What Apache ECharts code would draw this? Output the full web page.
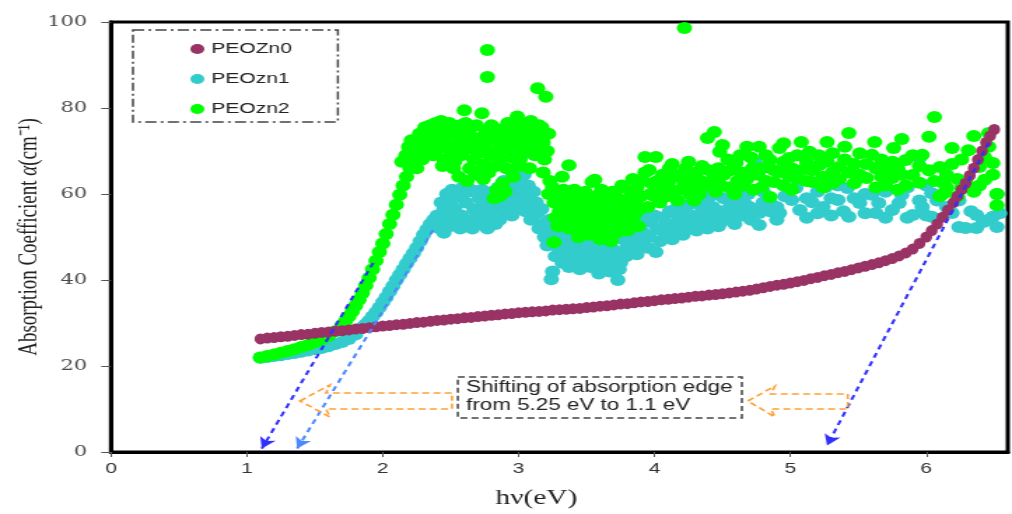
<!DOCTYPE html>
<html><head><meta charset="utf-8">
<script src="https://cdn.jsdelivr.net/npm/echarts@6.0.0/dist/echarts.min.js"></script>
<style>
html,body{margin:0;padding:0;background:#fff;overflow:hidden;}
#wrap{width:1012px;height:514px;overflow:hidden;}
#chart{width:723px;height:514px;transform:scaleX(1.3997);transform-origin:0 0;}
</style></head><body><div id="wrap"><div id="chart"></div></div>
<script>
// ---- data (hv in eV, alpha in cm^-1) ----
const seriesNames = ['PEOZn0', 'PEOzn1', 'PEOzn2'];
const xTicks = [0, 1, 2, 3, 4, 5, 6];
const yTicks = [0, 20, 40, 60, 80, 100];

const peoZn0 = [
[1.10,26.3],[1.15,26.5],[1.20,26.6],[1.25,26.8],[1.30,26.9],[1.35,27.1],[1.40,27.3],[1.45,27.4],[1.50,27.6],[1.55,27.8],
[1.60,27.9],[1.65,28.1],[1.70,28.2],[1.75,28.4],[1.80,28.6],[1.85,28.7],[1.90,28.9],[1.95,29.1],[2.00,29.3],[2.05,29.4],
[2.10,29.6],[2.15,29.7],[2.20,29.9],[2.25,30.1],[2.30,30.2],[2.35,30.4],[2.40,30.6],[2.45,30.7],[2.50,30.9],[2.55,31.0],
[2.60,31.2],[2.65,31.3],[2.70,31.5],[2.75,31.6],[2.80,31.8],[2.85,31.9],[2.90,32.1],[2.95,32.2],[3.00,32.4],[3.05,32.5],
[3.10,32.6],[3.15,32.7],[3.20,32.8],[3.25,33.0],[3.30,33.1],[3.35,33.2],[3.40,33.3],[3.45,33.4],[3.50,33.6],[3.55,33.7],
[3.60,33.9],[3.65,34.0],[3.70,34.2],[3.75,34.4],[3.80,34.5],[3.85,34.7],[3.90,34.9],[3.95,35.0],[4.00,35.2],[4.05,35.4],
[4.10,35.5],[4.15,35.7],[4.20,35.8],[4.25,36.0],[4.30,36.2],[4.35,36.3],[4.40,36.5],[4.45,36.6],[4.50,36.8],[4.55,37.0],
[4.60,37.2],[4.65,37.4],[4.70,37.6],[4.75,37.9],[4.80,38.2],[4.85,38.5],[4.90,38.8],[4.95,39.0],[5.00,39.3],[5.05,39.6],
[5.10,39.9],[5.15,40.3],[5.20,40.6],[5.25,41.0],[5.30,41.3],[5.35,41.7],[5.40,42.0],[5.45,42.4],[5.50,42.8],[5.55,43.2],
[5.60,43.6],[5.65,44.0],[5.70,44.5],[5.75,45.0],[5.80,45.6],[5.85,46.3],[5.90,47.2],[5.95,48.5],[6.00,50.0],[6.04,51.5],
[6.08,53.0],[6.12,54.6],[6.16,56.3],[6.20,58.0],[6.23,59.5],[6.26,61.0],[6.29,62.5],[6.32,64.3],[6.35,66.0],[6.38,68.0],
[6.41,70.0],[6.44,72.0],[6.47,73.5],[6.50,75.0]
];

const zn1Edge = [
[1.10,21.9],[1.15,22.1],[1.20,22.3],[1.25,22.5],[1.30,22.8],[1.35,23.0],[1.40,23.3],[1.45,23.6],[1.50,23.9],[1.55,24.2],
[1.60,24.6],[1.65,25.1],[1.70,25.6],[1.75,26.3],[1.80,27.3],[1.85,29.0],[1.875,29.7],[1.90,30.5],[1.925,31.5],[1.95,32.5],
[1.975,33.6],[2.00,34.8],[2.025,36.0],[2.05,37.3],[2.075,38.6],[2.10,40.0],[2.125,41.2],[2.15,42.5],[2.175,43.8],[2.20,45.0],
[2.225,46.2],[2.25,47.5],[2.275,49.0],[2.30,50.5],[2.325,51.8],[2.35,53.0],[2.375,54.0],[2.40,55.0],[2.45,56.5],[2.50,57.5]
];

const zn1Cloud = [
[2.42,52],[2.43,58],[2.46,54],[2.47,60],[2.45,51],[2.50,55.5],[2.51,61],[2.49,52.5],[2.54,53.5],[2.55,59.5],[2.53,56.5],
[2.58,55],[2.59,61.5],[2.57,52],[2.62,54],[2.61,58],[2.63,60.5],[2.66,52],[2.67,56.5],[2.65,61],[2.70,55],[2.71,59],[2.69,53],
[2.74,57],[2.73,61],[2.75,53.5],[2.78,55],[2.79,59],[2.77,52],[2.82,56.5],[2.81,60.5],[2.83,53],[2.86,54],[2.87,58],[2.85,61.5],
[2.90,56],[2.91,60],[2.89,63],[2.94,58],[2.93,62],[2.95,55],[2.96,64.5],[2.98,60],[2.99,63.5],[2.97,56.5],[3.00,66],[3.01,68.6],
[3.02,61.5],[3.03,58],[3.04,64.5],[3.06,59.5],[3.07,62],[3.05,56],[3.10,57],[3.11,60.5],[3.09,54],[3.14,55.5],[3.13,58],[3.15,52],
[3.18,53],[3.17,56.5],[3.19,50],[3.22,51],[3.21,48],[3.23,54],[3.24,40.2],[3.25,42],[3.26,49],[3.27,45.5],[3.28,52],
[3.30,47],[3.31,50.5],[3.32,44],[3.34,48.5],[3.35,45],[3.36,51.5],[3.38,46],[3.39,49.5],[3.37,43],[3.42,47.5],[3.41,44.5],[3.43,51],
[3.46,45.5],[3.47,49],[3.45,42.5],[3.50,47],[3.51,44],[3.49,50.5],[3.54,46],[3.55,49],[3.53,43],[3.58,44.5],[3.57,48],[3.59,41.5],
[3.62,46.5],[3.63,43.5],[3.61,50],[3.66,45],[3.65,48.5],[3.67,42],[3.70,47],[3.71,44],[3.69,51],[3.73,40],[3.74,42.5],
[3.76,46],[3.77,49.5],[3.75,44],[3.80,48],[3.81,51.5],[3.79,45.5],[3.84,50],[3.83,47],[3.85,53],[3.88,49],[3.89,52.5],[3.87,46],
[3.92,51],[3.93,54.5],[3.91,48],[3.96,50],[3.97,53.5],[3.95,47.5],[4.01,46.5],[4.02,52],[4.00,55],[4.05,51.5],[4.06,54.5],[4.04,49],
[4.10,53],[4.09,50.5],[4.11,56],[4.14,52],[4.15,55.5],[4.13,49.5],[4.18,54],[4.19,51],[4.17,57],[4.22,53],[4.23,56],[4.21,50.5],
[4.26,52],[4.27,55],[4.25,57.5],[4.30,54.5],[4.31,51.5],[4.29,58],[4.34,53],[4.35,56.5],[4.38,55],[4.39,52],[4.37,58],
[4.42,54],[4.43,57],[4.41,59.5],[4.46,55.5],[4.47,52.5],[4.50,56],[4.51,59],[4.49,53.5],[4.55,54.5],[4.56,57.5],
[4.60,56],[4.61,59.5],[4.59,53],[4.65,55],[4.66,58],[4.70,57],[4.71,54],[4.69,60],[4.74,67.4],[4.74,56],[4.77,55.6],[4.77,52.8],
[4.80,58],[4.80,60.5],[4.85,58.1],[4.85,56],[4.90,54],[4.90,57],[4.92,55.6],[4.96,59.5],[5.01,58.6],[5.04,61.4],[5.07,56.3],
[5.12,59],[5.12,54.5],[5.16,58.1],[5.20,60.5],[5.20,55.5],[5.24,57],[5.26,61.6],[5.30,59],[5.30,55],[5.35,58.6],[5.35,62],
[5.39,56],[5.43,54.7],[5.42,61.4],[5.47,59],[5.51,57.9],[5.55,60],[5.55,55.5],[5.60,59.8],[5.63,55.6],[5.65,57.9],[5.70,60.5],
[5.70,54.5],[5.75,56.3],[5.80,57.9],[5.82,59.8],[5.86,54.5],[5.86,61.5],[5.90,55.1],[5.95,68.4],[5.95,58.5],[5.97,57],
[6.00,55],[6.00,62],[6.04,60.2],[6.04,54.7],[6.08,58.5],[6.12,62.8],[6.15,57],[6.19,55.6],[6.24,52.3],[6.24,58.5],[6.29,52.1],
[6.33,56],[6.37,55.1],[6.37,52.1],[6.42,53.5],[6.46,54],[6.49,54.7],[6.52,52.3],[6.52,60],[6.54,55.5]
];

const zn2Edge = [
[1.10,22.0],[1.15,22.3],[1.20,22.7],[1.25,23.1],[1.30,23.5],[1.35,23.9],[1.40,24.4],[1.45,24.9],[1.50,25.5],[1.55,26.2],
[1.60,27.0],[1.65,28.1],[1.70,29.5],[1.725,30.4],[1.75,31.5],[1.775,32.7],[1.80,34.0],[1.825,35.4],[1.85,37.0],[1.875,38.7],
[1.90,40.5],[1.925,42.5],[1.95,44.5],[1.975,46.5],[2.00,48.5],[2.025,50.7],[2.05,53.0],[2.075,55.2],[2.10,57.5],[2.125,59.8],
[2.15,62.0],[2.175,64.0],[2.20,66.0],[2.225,67.6],[2.25,69.0],[2.275,70.0],[2.30,71.0]
];

const zn2Cloud = [
[2.14,67.5],[2.17,69.0],[2.19,71.0],[2.21,72.5],[2.22,68],[2.23,72],[2.26,70.5],[2.27,74],[2.25,66],
[2.30,73],[2.31,75.5],[2.29,68],[2.34,71],[2.35,76],[2.33,74],[2.38,72.5],[2.39,76.5],[2.37,69],[2.42,74],[2.43,77],[2.41,70.5],[2.44,66.5],
[2.46,72],[2.47,75.5],[2.45,68],[2.50,70],[2.51,74],[2.49,76.5],[2.52,66],[2.54,71.5],[2.55,75],[2.53,67.5],[2.56,64],
[2.58,69],[2.59,73],[2.57,76],[2.60,79.5],[2.61,76.5],[2.62,70.5],[2.63,74.5],[2.64,66],[2.62,63],[2.66,72],[2.67,68],[2.65,75.5],[2.68,64.5],
[2.70,69.5],[2.71,73],[2.69,76],[2.72,65.5],[2.73,78.8],[2.74,71],[2.75,67],[2.76,74.5],[2.74,63.5],[2.77,93.5],[2.77,87.2],
[2.78,72.5],[2.79,69],[2.80,76],[2.78,65],[2.82,70],[2.83,66.5],[2.81,74],[2.84,61],[2.82,59],[2.86,72],[2.87,68],[2.85,75],[2.88,62.5],[2.86,59.5],
[2.90,70.5],[2.91,66],[2.89,73.5],[2.92,76.5],[2.90,60.5],[2.94,72],[2.95,68.5],[2.93,75],[2.96,64],[2.99,78],
[2.98,70],[2.99,74],[2.97,76.5],[3.00,66.5],[3.02,71.5],[3.03,75.5],[3.01,68],[3.04,73],[3.06,73.5],[3.07,76.5],[3.05,70],[3.08,66],
[3.10,72],[3.11,75],[3.09,77],[3.12,69],[3.14,84.6],[3.14,73.5],[3.15,76],[3.13,70.5],[3.18,72],[3.17,75.5],[3.19,68],[3.18,65],
[3.20,82.6],[3.22,74],[3.21,70],[3.23,63],[3.22,60],
[3.26,58],[3.27,54.5],[3.25,61.5],[3.26,48.8],[3.30,56],[3.31,60],[3.29,52.5],[3.32,64],[3.34,57.5],[3.35,54],[3.33,61],[3.37,66.7],
[3.38,55.5],[3.39,59],[3.37,52],[3.42,57],[3.43,53.5],[3.41,61],[3.44,50],[3.46,55],[3.47,59],[3.45,52.5],
[3.50,56.5],[3.51,53],[3.49,60.5],[3.52,50.5],[3.54,62.8],[3.54,58],[3.55,54.5],[3.53,51.5],[3.56,63.3],
[3.58,56],[3.59,52.5],[3.57,59.5],[3.60,49.5],[3.62,57.5],[3.63,54],[3.61,61],[3.64,51],[3.66,55.5],[3.67,52],[3.65,59],[3.68,49],
[3.70,57],[3.71,53.5],[3.69,60.5],[3.72,51],[3.74,56],[3.75,52.5],[3.73,59],[3.76,62],[3.78,58],[3.79,54.5],[3.77,61.5],[3.80,51.5],
[3.82,56.5],[3.83,60],[3.81,53.5],[3.84,63.5],[3.86,58],[3.87,61.5],[3.85,55],[3.88,52.5],[3.90,59.5],[3.91,63],[3.89,56.5],
[3.93,68.6],[3.93,65],[3.96,65.6],[3.97,60],[3.95,57],[3.98,62.5],[4.01,68.6],[4.02,63],[4.00,59.5],[4.05,61],[4.06,64.5],[4.04,58],
[4.10,62.5],[4.09,59.5],[4.11,66],[4.14,60.5],[4.15,64],[4.13,67],[4.18,64.4],[4.19,61],[4.17,58.5],[4.22,98.6],[4.22,62.5],[4.23,66],
[4.26,60],[4.27,63.5],[4.25,67.5],[4.30,61.5],[4.31,65],[4.29,58.5],[4.34,63],[4.35,66.5],[4.33,60],[4.39,73],[4.38,62],[4.40,65.5],
[4.44,74.4],[4.43,63.5],[4.45,60.5],[4.48,69.8],[4.47,66],[4.49,62],[4.50,71.4],[4.51,64.5],[4.55,61.5],[4.56,65.5],[4.54,68],
[4.60,67.2],[4.61,63],[4.59,60],[4.64,65],[4.65,62],[4.63,69],[4.68,71],[4.68,63.5],[4.72,66],[4.73,61],[4.71,68.5],
[4.77,71],[4.76,64.5],[4.78,66],[4.79,66],[4.79,61.6],[4.82,69],[4.82,63],[4.85,67.9],[4.85,59.3],[4.88,62.8],[4.88,65.5],
[4.92,70.7],[4.92,65.1],[4.95,71.8],[4.95,67.5],[4.95,62],[4.99,68.4],[4.99,64],[5.01,66],[5.01,61],[5.05,63.5],[5.05,69],
[5.08,72.1],[5.08,65.5],[5.12,67.5],[5.12,63],[5.14,69.8],[5.16,62.8],[5.16,65.5],[5.21,66.7],[5.21,69],[5.24,64],[5.24,61.5],
[5.27,72.1],[5.27,67.5],[5.31,65],[5.31,62.5],[5.31,69.5],[5.36,66.3],[5.36,63.5],[5.40,68],[5.40,71],[5.43,74.2],[5.43,65],
[5.47,67],[5.47,62.5],[5.51,69.5],[5.51,64.5],[5.56,63.7],[5.56,67],[5.60,69.1],[5.62,72.1],[5.63,66],[5.63,61.5],[5.67,64],[5.67,68],
[5.70,65.6],[5.70,62],[5.75,63.7],[5.76,70.7],[5.75,67.5],[5.79,66],[5.79,61],[5.82,72.8],[5.82,64.5],[5.85,67.9],[5.85,62],
[5.90,64.4],[5.90,69],[5.95,62.6],[5.95,66.5],[5.97,69.1],[6.02,73.3],[6.02,65.5],[6.06,77.9],[6.06,63],[6.10,66.3],[6.10,59.5],
[6.13,60.2],[6.13,62.5],[6.15,61.4],[6.15,64.5],[6.19,70.7],[6.19,67],[6.23,63.5],[6.23,59.5],[6.26,61.4],[6.26,68],[6.29,62.8],[6.31,70.2],
[6.35,73.5],[6.35,60.5],[6.39,66.3],[6.39,62],[6.43,63.3],[6.43,68.5],[6.46,74.2],[6.46,71],[6.49,67.2],[6.49,64.5],[6.52,57.4],[6.52,60]
];

// tangent (absorption-edge) lines: [start, end] in data coords
const tangentLines = [
  [[1.93, 44.0], [1.11, 0.8]],
  [[2.37, 51.6], [1.37, 0.8]],
  [[6.46, 71.9], [5.27, 1.5]]
];
const noteText = ['Shifting of absorption edge', 'from 5.25 eV to 1.1 eV'];

// ---- chart ----
const chart = echarts.init(document.getElementById('chart'), null, {renderer: 'canvas'});
const tanColors = ['#2f2fff', '#4d88ff', '#2f2fff'];
const seriesColors = ['#993366', '#33CCCC', '#00FF00'];

const orangeStyle = {fill: 'none', stroke: '#FFA033', lineWidth: 1.6, lineDash: [5, 3]};

const option = {
  animation: false,
  backgroundColor: '#fff',
  grid: {left: 79.3, right: 3, top: 22, bottom: 62, outerBoundsMode: 'none', containLabel: false,
    show: true, borderColor: '#000', borderWidth: 3, backgroundColor: 'transparent'},
  legend: {
    data: seriesNames, orient: 'vertical', left: 131, top: 36, itemGap: 14,
    itemWidth: 10, itemHeight: 10, icon: 'circle',
    textStyle: {fontFamily: 'Liberation Sans', fontSize: 15, color: '#222', lineHeight: 16},
    selectedMode: false
  },
  xAxis: {
    type: 'value', min: 0, max: 6.6, interval: 1,
    name: 'hν(eV)', nameLocation: 'middle', nameGap: 36,
    nameTextStyle: {fontFamily: 'Liberation Serif', fontSize: 21, color: '#222', padding: [0, 33, 0, 0]},
    axisLine: {show: true, lineStyle: {color: '#000', width: 3}},
    axisTick: {show: true, length: 5, lineStyle: {color: '#555', width: 1}},
    axisLabel: {showMaxLabel: false, margin: 9, fontFamily: 'Liberation Sans', fontSize: 15, color: '#333'},
    splitLine: {show: false}
  },
  yAxis: {
    type: 'value', min: 0, max: 100, interval: 20,
    name: 'Absorption Coefficient {i|α}(cm⁻¹)', nameLocation: 'middle', nameGap: 49, nameMoveOverlap: false,
    nameTextStyle: {fontFamily: 'Liberation Serif', fontSize: 19, color: '#222',
      rich: {i: {fontFamily: 'Liberation Serif', fontStyle: 'italic', fontSize: 19, color: '#222'}}},
    axisLine: {show: true, lineStyle: {color: '#000', width: 3}},
    axisTick: {show: true, length: 7, lineStyle: {color: '#555', width: 1}},
    axisLabel: {margin: 17, fontFamily: 'DejaVu Serif', fontSize: 15, color: '#4a4a4a'},
    splitLine: {show: false}
  },
  series: [
    {name: seriesNames[0], type: 'scatter', z: 4, data: peoZn0, symbolSize: [8.5, 11],
      itemStyle: {color: seriesColors[0], opacity: 1}, emphasis: {disabled: true},
      markLine: {
        silent: true, z: 10, symbol: ['none', 'arrow'], symbolSize: [9, 11], label: {show: false},
        emphasis: {disabled: true},
        data: tangentLines.map((l, i) => [
          {coord: l[0], lineStyle: {color: tanColors[i], type: [5, 4], width: 2}, itemStyle: {color: tanColors[i]}},
          {coord: l[1]}
        ])
      }},
    {name: seriesNames[1], type: 'scatter', z: 2, data: zn1Edge.concat(zn1Cloud), symbolSize: [11, 12],
      itemStyle: {color: seriesColors[1], opacity: 1}, emphasis: {disabled: true}},
    {name: seriesNames[2], type: 'scatter', z: 3, data: zn2Edge.concat(zn2Cloud), symbolSize: [11, 12],
      itemStyle: {color: seriesColors[2], opacity: 1}, emphasis: {disabled: true}}
  ],
  graphic: [
    {type: 'rect', shape: {x: 95, y: 30, width: 146.4, height: 92}, z: 100,
      style: {fill: 'none', stroke: '#444', lineWidth: 1.5, lineDash: [8, 3, 2, 3]}},
    {type: 'rect', shape: {x: 327.1, y: 377, width: 202.9, height: 41}, z: 100,
      style: {fill: '#fff', stroke: '#444', lineWidth: 1.5, lineDash: [5, 3]}},
    {type: 'text', x: 333, y: 378.5, z: 101,
      style: {text: noteText.join('\n'), font: '16px "Liberation Sans"', fill: '#222', lineHeight: 18}},
    {type: 'polygon', z: 100, shape: {points: [[214.3,401],[235.7,385],[232.9,393],[322.9,393],[322.9,409],[232.9,409],[235.7,417]]}, style: orangeStyle},
    {type: 'polygon', z: 100, shape: {points: [[534.3,401],[553.6,386],[550.7,394],[605.7,394],[605.7,409],[550.7,409],[553.6,417]]}, style: orangeStyle}
  ]
};
chart.setOption(option);
</script></body></html>
